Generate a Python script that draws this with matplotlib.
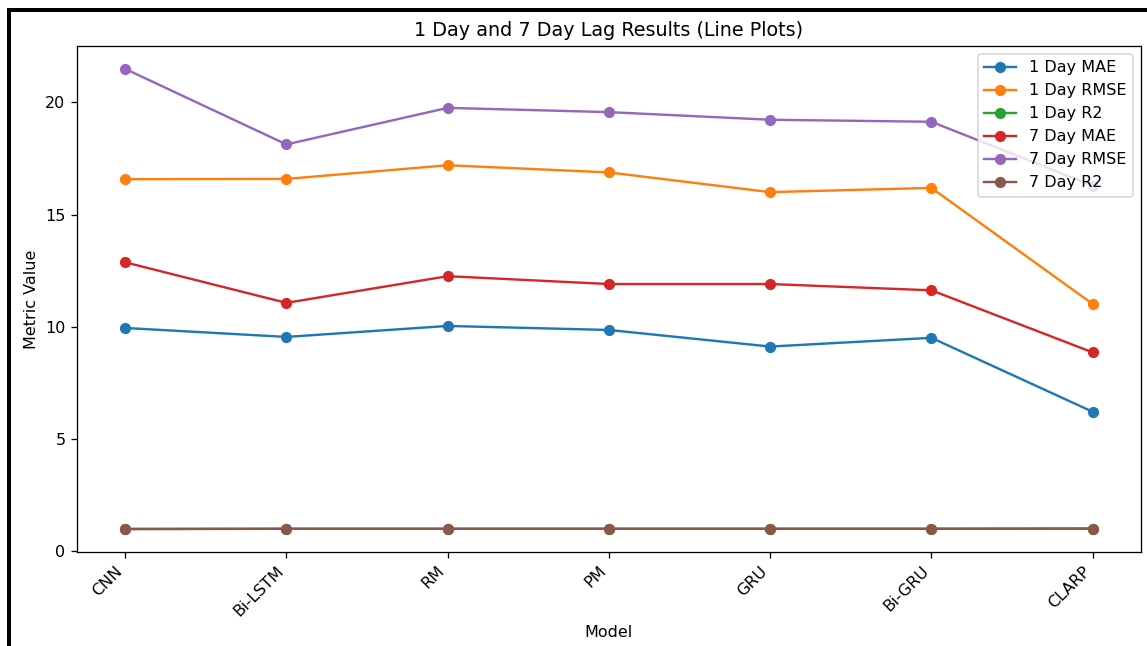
import numpy as np
import matplotlib
matplotlib.use("Agg")
import matplotlib.pyplot as plt
from matplotlib.patches import Rectangle

models = ['CNN', 'Bi-LSTM', 'RM', 'PM', 'GRU', 'Bi-GRU', 'CLARP']

day1_mae = [9.94, 9.54, 10.03, 9.85, 9.11, 9.50, 6.20]
day1_rmse = [16.58, 16.59, 17.20, 16.88, 16.00, 16.19, 11.01]
day1_r2 = [0.97, 0.98, 0.98, 0.98, 0.98, 0.98, 0.99]
day7_mae = [12.87, 11.06, 12.25, 11.90, 11.90, 11.62, 8.85]
day7_rmse = [21.50, 18.13, 19.76, 19.57, 19.23, 19.14, 16.29]
day7_r2 = [0.97, 0.98, 0.98, 0.98, 0.98, 0.98, 0.99]

series = [
    ('1 Day MAE', day1_mae),
    ('1 Day RMSE', day1_rmse),
    ('1 Day R2', day1_r2),
    ('7 Day MAE', day7_mae),
    ('7 Day RMSE', day7_rmse),
    ('7 Day R2', day7_r2),
]

DPI = 115
W, H = 1147, 646
fig = plt.figure(figsize=(W / DPI, H / DPI), dpi=DPI)
ax = fig.add_axes([0.0669, 0.1455, 0.9279, 0.7835])

for name, vals in series:
    ax.plot(models, vals, marker='o', label=name)

ax.set_title('1 Day and 7 Day Lag Results (Line Plots)', fontsize=12)
ax.set_xlabel('Model')
ax.set_ylabel('Metric Value')
plt.setp(ax.get_xticklabels(), rotation=45, ha='right')
ax.legend(loc='upper right')

# screenshot frame (black edge on the left and top)
fig.add_artist(Rectangle((7 / W, 0), 4 / W, 1 - 8 / H,
                         transform=fig.transFigure, color='black', lw=0))
fig.add_artist(Rectangle((7 / W, 1 - 12 / H), 1 - 7 / W, 4 / H,
                         transform=fig.transFigure, color='black', lw=0))

fig.savefig('out.png', dpi=DPI)
